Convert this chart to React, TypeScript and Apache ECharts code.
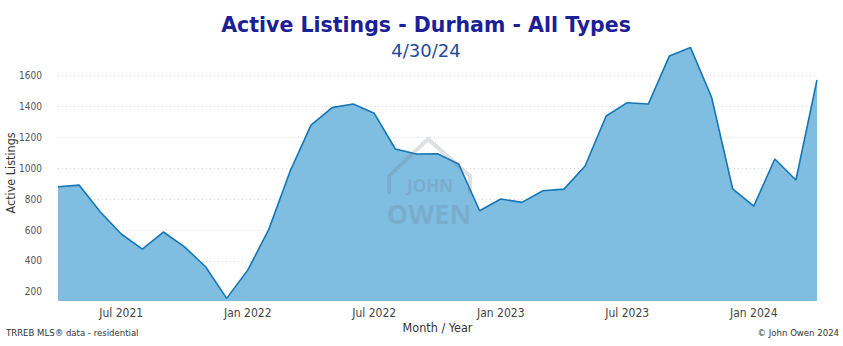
import React, { useEffect, useRef } from "react";
import * as echarts from "echarts";

const months: string[] = [
  "Apr 2021", "May 2021", "Jun 2021", "Jul 2021", "Aug 2021", "Sep 2021", "Oct 2021", "Nov 2021", "Dec 2021",
  "Jan 2022", "Feb 2022", "Mar 2022", "Apr 2022", "May 2022", "Jun 2022", "Jul 2022", "Aug 2022", "Sep 2022",
  "Oct 2022", "Nov 2022", "Dec 2022", "Jan 2023", "Feb 2023", "Mar 2023", "Apr 2023", "May 2023", "Jun 2023",
  "Jul 2023", "Aug 2023", "Sep 2023", "Oct 2023", "Nov 2023", "Dec 2023", "Jan 2024", "Feb 2024", "Mar 2024",
  "Apr 2024",
];

const activeListings: number[] = [
  880, 891, 718, 574, 476, 587, 491, 362, 157,
  340, 604, 978, 1280, 1393, 1416, 1356, 1125, 1092,
  1094, 1028, 725, 801, 779, 854, 865, 1015, 1339,
  1425, 1416, 1728, 1782, 1460, 867, 755, 1060, 924,
  1572,
];

const xTickLabels: string[] = ["Jul 2021", "Jan 2022", "Jul 2022", "Jan 2023", "Jul 2023", "Jan 2024"];
const yTickValues: number[] = [200, 400, 600, 800, 1000, 1200, 1400, 1600];

export default function App() {
  const ref = useRef<HTMLDivElement>(null);
  useEffect(() => {
    if (!ref.current) return;
    const chart = echarts.init(ref.current, undefined, { renderer: "svg" });
    const narrow = "'Liberation Sans Narrow', 'DejaVu Sans Condensed', sans-serif";
    const wide = "'DejaVu Sans', Verdana, sans-serif";
    const wm = "rgba(105,115,130,0.22)";
    chart.setOption({
      animation: false,
      backgroundColor: "#ffffff",
      title: [
        {
          text: "Active Listings - Durham - All Types",
          left: 421,
          textAlign: "center",
          top: 9,
          textStyle: { fontFamily: wide, fontSize: 20.5, fontWeight: "bold", color: "#1b2096" },
        },
        {
          text: "4/30/24",
          left: 421,
          textAlign: "center",
          top: 36,
          textStyle: { fontFamily: wide, fontSize: 18, fontWeight: "normal", color: "#1f4b9c" },
        },
      ],
      grid: { left: 58, right: 26, top: 44.8, bottom: 45, outerBoundsMode: "none", containLabel: false },
      xAxis: {
        type: "category",
        data: months,
        boundaryGap: false,
        name: "Month / Year",
        nameLocation: "middle",
        nameGap: 20,
        nameMoveOverlap: false,
        nameTextStyle: { fontFamily: narrow, fontSize: 12.5, color: "#333" },
        axisLine: { show: false },
        axisTick: { show: false },
        axisLabel: {
          fontFamily: narrow,
          fontSize: 12,
          color: "#444",
          margin: 6,
          interval: (_i: number, v: string) => xTickLabels.includes(v),
        },
        splitLine: { show: false },
      },
      yAxis: {
        type: "value",
        min: 140,
        max: 1800,
        name: "Active Listings",
        nameLocation: "middle",
        nameRotate: 90,
        nameGap: 41,
        nameMoveOverlap: false,
        nameTextStyle: { fontFamily: narrow, fontSize: 12.5, color: "#333" },
        axisLine: { show: false },
        axisTick: { show: false, customValues: yTickValues },
        axisLabel: {
          fontFamily: narrow,
          fontSize: 10,
          color: "#555",
          margin: 16,
          customValues: yTickValues,
          formatter: (v: number) => String(v),
        },
        splitLine: { show: true, lineStyle: { color: "#d8d8d8", type: [1, 3], width: 1 } },
      },
      series: [
        {
          type: "line",
          data: activeListings,
          symbol: "none",
          lineStyle: { color: "#1677b5", width: 1.6 },
          areaStyle: { color: "#7fbde1", opacity: 1 },
          z: 2,
        },
      ],
      graphic: [
        {
          type: "polyline",
          z: 100,
          shape: { points: [[389, 194], [389, 176], [428, 139], [470, 176], [470, 194]] },
          style: { stroke: wm, lineWidth: 4, fill: "none" },
        },
        {
          type: "text",
          z: 100,
          x: 430,
          y: 185,
          style: {
            text: "JOHN",
            fill: wm,
            fontFamily: "'Open Sans', sans-serif",
            fontWeight: "bold",
            fontSize: 17,
            lineHeight: 16,
            align: "center",
            verticalAlign: "middle",
          },
        },
        {
          type: "text",
          z: 100,
          x: 429,
          y: 213,
          style: {
            text: "OWEN",
            fill: wm,
            fontFamily: "'Open Sans', sans-serif",
            fontWeight: "bold",
            fontSize: 27,
            lineHeight: 22,
            align: "center",
            verticalAlign: "middle",
          },
        },
        {
          type: "text",
          left: 6,
          top: 327,
          style: { text: "TRREB MLS® data - residential", fill: "#333", fontFamily: narrow, fontSize: 9.5 },
        },
        {
          type: "text",
          right: 4,
          top: 327,
          style: { text: "© John Owen 2024", fill: "#333", fontFamily: narrow, fontSize: 9.5 },
        },
      ],
    });
    return () => chart.dispose();
  }, []);
  return (
    <div style={{ position: "fixed", left: 0, top: 0 }}>
      <div ref={ref} style={{ width: 843, height: 346 }} />
    </div>
  );
}
